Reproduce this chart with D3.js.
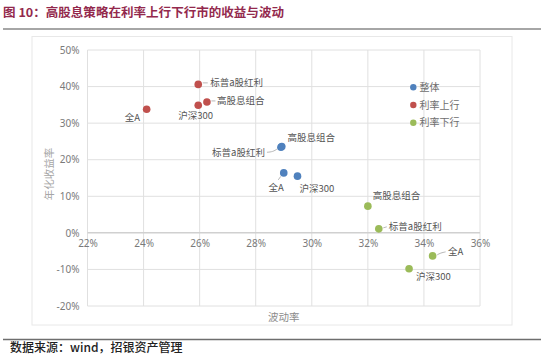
<!DOCTYPE html>
<html><head><meta charset="utf-8">
<script src="https://cdn.jsdelivr.net/npm/d3@7"></script>
<style>
html,body{margin:0;padding:0;background:#fff;}
svg{display:block;font-family:"Noto Sans CJK SC","Noto Sans",sans-serif;}
</style></head>
<body>
<svg id="chart" width="553" height="355"></svg>
<script>
// ---- data ----
const seriesNames = ["整体", "利率上行", "利率下行"];
const seriesColors = ["#4f81bd", "#c0504d", "#9bbb59"];
const pointNames = ["高股息组合", "标普a股红利", "全A", "沪深300"];
// volatility (%) per series, order = pointNames
const volOverall = [28.93, 28.90, 29.00, 29.49];
const retOverall = [23.6, 23.4, 16.4, 15.5];
const volUp = [26.26, 25.95, 24.11, 25.95];
const retUp = [35.8, 40.6, 33.8, 34.9];
const volDown = [32.00, 32.39, 34.31, 33.47];
const retDown = [7.3, 1.1, -6.3, -9.8];
const xTicks = [22, 24, 26, 28, 30, 32, 34, 36];
const yTicks = [-20, -10, 0, 10, 20, 30, 40, 50];
const titleText = "图 10：高股息策略在利率上行下行市的收益与波动";
const sourceText = "数据来源：wind，招银资产管理";
const xAxisTitle = "波动率";
const yAxisTitle = "年化收益率";

// ---- label layout (pixel offsets from point) ----
const labelLayout = [
  [ // 整体
    {dx: 5.6, dy: -9, anchor: "start"},
    {dx: -16, dy: 5, anchor: "end", leader: [[-3.5, 1.5], [-8, 4.5], [-14, 5]]},
    {dx: -7.5, dy: 15, anchor: "middle", leader: [[-3, 3.5], [-5.5, 7]]},
    {dx: 2, dy: 13, anchor: "start"}
  ],
  [ // 利率上行
    {dx: 10, dy: -1, anchor: "start", leader: [[4.5, -1], [8.5, -1]]},
    {dx: 12, dy: -1.6, anchor: "start", leader: [[4.5, -1.5], [9.5, -1.5]]},
    {dx: -6.5, dy: 8, anchor: "end"},
    {dx: -2.5, dy: 10, anchor: "middle"}
  ],
  [ // 利率下行
    {dx: 5, dy: -10.5, anchor: "start"},
    {dx: 10, dy: -2, anchor: "start", leader: [[4.5, -1], [8, -2]]},
    {dx: 15.5, dy: -4, anchor: "start", leader: [[4.5, -1], [8, -3], [13, -4]]},
    {dx: 7, dy: 7.5, anchor: "start"}
  ]
];

const vols = [volOverall, volUp, volDown];
const rets = [retOverall, retUp, retDown];

const svg = d3.select("#chart");
const plot = {left: 87.5, right: 480, top: 50, bottom: 306};

const x = d3.scaleLinear().domain([22, 36]).range([plot.left, plot.right]);
const y = d3.scaleLinear().domain([-20, 50]).range([plot.bottom, plot.top]);

// title
svg.append("text").attr("x", 3).attr("y", 13).attr("dy", "0.35em")
  .attr("font-size", 12).attr("font-weight", "bold").attr("fill", "#93294d")
  .attr("textLength", 281).attr("lengthAdjust", "spacingAndGlyphs")
  .text(titleText);
svg.append("line").attr("x1", 3).attr("x2", 541).attr("y1", 29).attr("y2", 29)
  .attr("stroke", "#a6a6a6").attr("stroke-width", 2);

// chart border
svg.append("rect").attr("x", 32).attr("y", 36.5).attr("width", 480).attr("height", 288.5)
  .attr("fill", "none").attr("stroke", "#e8e8e8").attr("stroke-width", 1);

// gridlines
const g = svg.append("g");
g.selectAll(".vg").data(xTicks).join("line")
  .attr("x1", d => x(d)).attr("x2", d => x(d))
  .attr("y1", plot.top).attr("y2", plot.bottom)
  .attr("stroke", "#e0e0e0").attr("stroke-width", 1);
g.selectAll(".hg").data(yTicks).join("line")
  .attr("x1", plot.left).attr("x2", plot.right)
  .attr("y1", d => y(d)).attr("y2", d => y(d))
  .attr("stroke", d => d === 0 ? "#d0d0d0" : "#e0e0e0").attr("stroke-width", d => d === 0 ? 1.5 : 1);

// axes via d3 axis generators (tick labels only)
const yAxis = d3.axisLeft(y).tickValues(yTicks).tickFormat(d => d + "%").tickSize(0).tickPadding(8);
const yg = svg.append("g").attr("transform", `translate(${plot.left},0)`).call(yAxis);
yg.select(".domain").remove();
yg.selectAll("text").attr("font-size", 10).attr("fill", "#7a7a7a").attr("font-family", "Noto Sans, sans-serif");

const xAxis = d3.axisBottom(x).tickValues(xTicks).tickFormat(d => d + "%").tickSize(0).tickPadding(7);
const xg = svg.append("g").attr("transform", `translate(0,${y(0)})`).call(xAxis);
xg.select(".domain").remove();
xg.selectAll("text").attr("font-size", 10).attr("fill", "#7a7a7a").attr("font-family", "Noto Sans, sans-serif");

// axis titles
svg.append("text").attr("x", (plot.left + plot.right) / 2).attr("y", 317).attr("dy", "0.35em")
  .attr("text-anchor", "middle").attr("font-size", 10.5).attr("fill", "#8c8c8c").text(xAxisTitle);
svg.append("text").attr("transform", `translate(49,${(plot.top + plot.bottom) / 2 - 4}) rotate(-90)`)
  .attr("dy", "0.35em").attr("text-anchor", "middle").attr("font-size", 10.5).attr("fill", "#a6a6a6").text(yAxisTitle);

// points + labels
seriesNames.forEach((s, si) => {
  const data = pointNames.map((n, i) => ({name: n, vx: vols[si][i], vy: rets[si][i], lay: labelLayout[si][i]}));
  const sg = svg.append("g");
  data.forEach(d => {
    if (d.lay.leader) {
      const px = x(d.vx), py = y(d.vy);
      const line = d3.line().curve(d3.curveBasis)(d.lay.leader.map(p => [px + p[0], py + p[1]]));
      sg.append("path").attr("d", line).attr("fill", "none").attr("stroke", "#a6a6a6").attr("stroke-width", 0.8);
    }
  });
  sg.selectAll("circle").data(data).join("circle")
    .attr("cx", d => x(d.vx)).attr("cy", d => y(d.vy)).attr("r", 3.8)
    .attr("fill", seriesColors[si]);
  sg.selectAll("text").data(data).join("text")
    .attr("x", d => x(d.vx) + d.lay.dx).attr("y", d => y(d.vy) + d.lay.dy)
    .attr("dy", "0.35em").attr("text-anchor", d => d.lay.anchor)
    .attr("font-size", 9.5).attr("fill", "#555").text(d => d.name);
});

// legend
const lg = svg.append("g");
seriesNames.forEach((s, i) => {
  const ly = 87.3 + i * 17.7;
  lg.append("circle").attr("cx", 413.3).attr("cy", ly).attr("r", 3.2).attr("fill", seriesColors[i]);
  lg.append("text").attr("x", 419.5).attr("y", ly).attr("dy", "0.35em")
    .attr("font-size", 10).attr("fill", "#6e6e6e").text(s);
});

// bottom line and source
svg.append("line").attr("x1", 3).attr("x2", 541).attr("y1", 339.5).attr("y2", 339.5)
  .attr("stroke", "#6e6e6e").attr("stroke-width", 1.5);
svg.append("text").attr("x", 10).attr("y", 348).attr("dy", "0.35em")
  .attr("font-size", 12).attr("font-weight", 500).attr("fill", "#222").text(sourceText);
</script>
</body></html>
